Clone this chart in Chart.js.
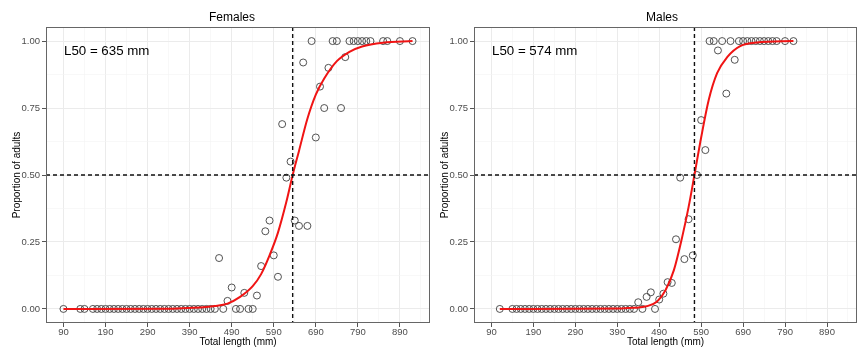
<!DOCTYPE html>
<html>
<head>
<meta charset="utf-8">
<script src="https://cdn.jsdelivr.net/npm/chart.js@4.4.1/dist/chart.umd.min.js"></script>
<style>
  body { margin: 0; background: #fff; }
  .wrap { display: flex; width: 864px; height: 349px; }
  canvas { display: block; }
</style>
</head>
<body>
<div class="wrap">
  <canvas id="femalesChart" width="432" height="349"></canvas>
  <canvas id="malesChart" width="432" height="349"></canvas>
</div>
<script>
// ---- data ----
const femaleLength = [90, 130, 140, 160, 170, 180, 190, 200, 210, 220, 230, 240, 250, 260, 270, 280, 290, 300,
  310, 320, 330, 340, 350, 360, 370, 380, 390, 400, 410, 420, 430, 440, 450, 460, 470, 480, 490, 500, 510,
  520, 530, 540, 550, 560, 570, 580, 590, 600, 610, 620, 630, 640, 650, 660, 670, 680, 690, 700, 710, 720,
  730, 740, 750, 760, 770, 780, 790, 800, 810, 820, 850, 860, 890, 920];
const femaleAdults = [0, 0, 0, 0, 0, 0, 0, 0, 0, 0, 0, 0, 0, 0, 0, 0, 0, 0,
  0, 0, 0, 0, 0, 0, 0, 0, 0, 0, 0, 0, 0, 0, 0, 0.19, 0, 0.03, 0.08, 0, 0,
  0.06, 0, 0, 0.05, 0.16, 0.29, 0.33, 0.20, 0.12, 0.69, 0.49, 0.55, 0.33, 0.31, 0.92, 0.31, 1, 0.64, 0.83, 0.75, 0.90,
  1, 1, 0.75, 0.94, 1, 1, 1, 1, 1, 1, 1, 1, 1, 1];

const maleLength = [110, 140, 150, 160, 170, 180, 190, 200, 210, 220, 230, 240, 250, 260, 270, 280, 290, 300,
  310, 320, 330, 340, 350, 360, 370, 380, 390, 400, 410, 420, 430, 440, 450, 460, 470, 480, 490, 500, 510,
  520, 530, 540, 550, 560, 570, 580, 590, 600, 610, 620, 630, 640, 650, 660, 670, 680, 690, 700, 710, 720,
  730, 740, 750, 760, 770, 790, 810];
const maleAdults = [0, 0, 0, 0, 0, 0, 0, 0, 0, 0, 0, 0, 0, 0, 0, 0, 0, 0,
  0, 0, 0, 0, 0, 0, 0, 0, 0, 0, 0, 0, 0, 0.025, 0, 0.045, 0.062, 0, 0.035, 0.057, 0.10,
  0.097, 0.26, 0.49, 0.186, 0.335, 0.20, 0.50, 0.705, 0.593, 1, 1, 0.965, 1, 0.804, 1, 0.93, 1, 1, 1, 1, 1,
  1, 1, 1, 1, 1, 1, 1];

// fitted ogives
const femaleCurveLength = [90, 350, 400, 450, 480, 510, 540, 560, 580, 600, 620, 635, 650, 670, 690, 710, 740, 770, 800, 850, 920];
const femaleCurveAdults = [0, 0.001, 0.004, 0.011, 0.02, 0.045, 0.085, 0.13, 0.2, 0.285, 0.4, 0.5, 0.59, 0.71, 0.8, 0.86, 0.925, 0.96, 0.98, 0.994, 1];
const maleCurveLength = [110, 400, 430, 460, 485, 505, 525, 545, 560, 574, 590, 608, 628, 652, 684, 723, 810];
const maleCurveAdults = [0, 0.002, 0.004, 0.01, 0.028, 0.07, 0.145, 0.27, 0.38, 0.5, 0.64, 0.78, 0.88, 0.94, 0.982, 0.995, 1];

const femaleL50 = 635;
const maleL50 = 574;

const xMajorTicks = [90, 190, 290, 390, 490, 590, 690, 790, 890];
const xGridTicks = [90, 140, 190, 240, 290, 340, 390, 440, 490, 540, 590, 640, 690, 740, 790, 840, 890, 940];
const yMajorTicks = [0, 0.25, 0.5, 0.75, 1];
const yGridTicks = [0, 0.125, 0.25, 0.375, 0.5, 0.625, 0.75, 0.875, 1];

const FONT = '"Liberation Sans", Arial, sans-serif';

const PanelRenderer = {
  /**
   * Plugin: background, dashed L50 guides, panel border, title and label
   */
  decorPlugin: {
    id: 'maturityDecor',
    beforeDraw(chart) {
      const ctx = chart.ctx;
      ctx.save();
      ctx.fillStyle = '#fff';
      ctx.fillRect(0, 0, chart.width, chart.height);
      ctx.restore();
    },
    afterDatasetsDraw(chart, args, opts) {
      const { ctx, chartArea: a, scales } = chart;
      const px = scales.x.getPixelForValue(opts.l50);
      const py = scales.y.getPixelForValue(0.5);

      ctx.save();
      ctx.strokeStyle = '#111';
      ctx.lineWidth = 1.4;
      ctx.setLineDash([4, 3]);
      ctx.beginPath();
      ctx.moveTo(px, a.top);
      ctx.lineTo(px, a.bottom);
      ctx.moveTo(a.left, py);
      ctx.lineTo(a.right, py);
      ctx.stroke();

      ctx.setLineDash([]);
      ctx.strokeStyle = '#666';
      ctx.lineWidth = 1;
      ctx.strokeRect(a.left + 0.5, a.top + 0.5, a.width - 1, a.height - 1);

      ctx.fillStyle = '#000';
      ctx.textBaseline = 'middle';
      ctx.font = `13.3px ${FONT}`;
      ctx.fillText(`L50 = ${opts.l50} mm`, a.left + 18, a.top + 24);

      // panel title
      ctx.font = `12px ${FONT}`;
      ctx.textAlign = 'center';
      ctx.fillText(opts.title, opts.titleX, 18);
      ctx.restore();
    }
  },

  toPoints(xs, ys) {
    return xs.map((x, i) => ({ x, y: ys[i] }));
  },

  create(canvasId, panel) {
    const ctx = document.getElementById(canvasId).getContext('2d');
    return new Chart(ctx, {
      type: 'scatter',
      data: {
        datasets: [
          {
            type: 'line',
            data: this.toPoints(panel.curveLength, panel.curveAdults),
            borderColor: '#f01414',
            borderWidth: 2,
            pointRadius: 0,
            fill: false,
            cubicInterpolationMode: 'monotone'
          },
          {
            data: this.toPoints(panel.length, panel.adults),
            pointRadius: 3.5,
            pointBorderWidth: 0.9,
            pointBorderColor: '#404040',
            pointBackgroundColor: 'rgba(0,0,0,0)'
          }
        ]
      },
      options: {
        responsive: false,
        animation: false,
        layout: {
          autoPadding: false,
          padding: { top: 27, left: 0, right: panel.padRight, bottom: 0 }
        },
        plugins: {
          legend: { display: false },
          tooltip: { enabled: false },
          title: { display: false },
          maturityDecor: { l50: panel.l50, title: panel.title, titleX: panel.titleX }
        },
        scales: {
          x: this.buildXScale(),
          y: this.buildYScale(panel)
        }
      },
      plugins: [this.decorPlugin]
    });
  },

  gridColor(ctx, majors) {
    return majors.includes(ctx.tick.value) ? '#ebebeb' : '#f4f4f4';
  },

  buildXScale() {
    return {
      type: 'linear',
      min: 48.5,
      max: 961.5,
      afterBuildTicks: (scale) => { scale.ticks = xGridTicks.map(v => ({ value: v })); },
      afterFit: (scale) => {
        scale.height = 26;
        scale.paddingLeft = 0;
        scale.paddingRight = 0;
      },
      border: { display: false },
      grid: {
        color: (c) => this.gridColor(c, xMajorTicks),
        lineWidth: (c) => xMajorTicks.includes(c.tick.value) ? 1 : 0.6,
        tickLength: 4,
        tickColor: (c) => xMajorTicks.includes(c.tick.value) ? '#555' : 'rgba(0,0,0,0)'
      },
      ticks: {
        autoSkip: false,
        maxRotation: 0,
        padding: 0,
        color: '#4d4d4d',
        font: { family: FONT, size: 9.5 },
        callback: (v) => xMajorTicks.includes(v) ? String(v) : ''
      },
      title: {
        display: true,
        text: 'Total length (mm)',
        color: '#000',
        font: { family: FONT, size: 10 },
        padding: { top: 0, bottom: 1 }
      }
    };
  },

  buildYScale(panel) {
    return {
      type: 'linear',
      min: -0.0525,
      max: 1.0525,
      afterBuildTicks: (scale) => { scale.ticks = yGridTicks.map(v => ({ value: v })); },
      afterFit: (scale) => { scale.width = panel.yWidth; },
      border: { display: false },
      grid: {
        color: (c) => this.gridColor(c, yMajorTicks),
        lineWidth: (c) => yMajorTicks.includes(c.tick.value) ? 1 : 0.6,
        tickLength: 4,
        tickColor: (c) => yMajorTicks.includes(c.tick.value) ? '#555' : 'rgba(0,0,0,0)'
      },
      ticks: {
        autoSkip: false,
        padding: 2,
        color: '#4d4d4d',
        font: { family: FONT, size: 9.5 },
        callback: (v) => yMajorTicks.includes(v) ? v.toFixed(2) : ''
      },
      title: {
        display: true,
        text: 'Proportion of adults',
        color: '#000',
        font: { family: FONT, size: 10 },
        padding: { top: panel.yTitlePad, bottom: 0 }
      }
    };
  }
};

PanelRenderer.create('femalesChart', {
  title: 'Females',
  titleX: 232,
  l50: femaleL50,
  length: femaleLength,
  adults: femaleAdults,
  curveLength: femaleCurveLength,
  curveAdults: femaleCurveAdults,
  yWidth: 46,
  yTitlePad: 11,
  padRight: 2
});

PanelRenderer.create('malesChart', {
  title: 'Males',
  titleX: 230,
  l50: maleL50,
  length: maleLength,
  adults: maleAdults,
  curveLength: maleCurveLength,
  curveAdults: maleCurveAdults,
  yWidth: 42,
  yTitlePad: 7,
  padRight: 7
});
</script>
</body>
</html>
